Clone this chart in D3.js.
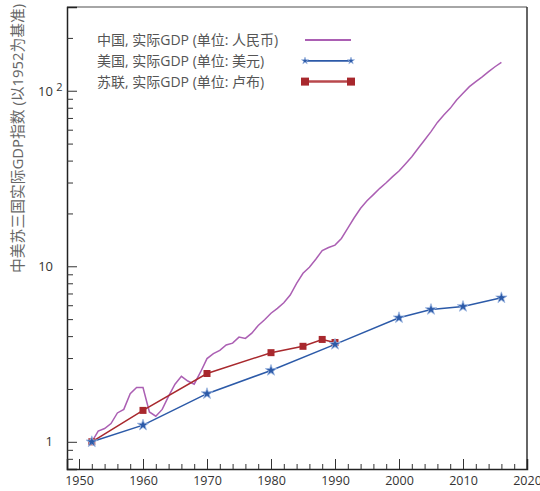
<!DOCTYPE html>
<html>
<head>
<meta charset="utf-8">
<script src="https://cdn.jsdelivr.net/npm/d3@7"></script>
<style>
  body { margin: 0; background: #fff; }
  text { font-family: "Open Sans", "Noto Sans CJK SC", sans-serif; }
</style>
</head>
<body>
<div id="chart"></div>
<script>
// data (index, 1952 = 1)
var chinaYears = [1952,1953,1954,1955,1956,1957,1958,1959,1960,1961,1962,1963,1964,1965,1966,1967,1968,1969,
  1970,1971,1972,1973,1974,1975,1976,1977,1978,1979,1980,1981,1982,1983,1984,1985,1986,1987,1988,1989,
  1990,1991,1992,1993,1994,1995,1996,1997,1998,1999,2000,2001,2002,2003,2004,2005,2006,2007,2008,2009,
  2010,2011,2012,2013,2014,2015,2016];
var chinaValues = [1.0,1.15,1.19,1.27,1.46,1.53,1.88,2.04,2.04,1.48,1.40,1.53,1.82,2.13,2.36,2.22,2.13,2.50,
  2.98,3.18,3.32,3.56,3.65,3.95,3.88,4.16,4.60,4.96,5.4,5.76,6.2,6.86,8.0,9.12,9.87,10.96,12.3,12.8,
  13.2,14.4,16.5,18.9,21.4,23.6,25.6,27.8,29.9,32.4,34.9,38.3,42.1,47.0,52.4,58.5,66,72.8,79.4,88.6,
  96.8,105.5,112.6,120,128.4,137,145];

var usYears = [1952,1960,1970,1980,1990,2000,2005,2010,2016];
var usValues = [1.0,1.245,1.88,2.55,3.59,5.09,5.67,5.9,6.61];

var ussrYears = [1952,1960,1970,1980,1985,1988,1990];
var ussrValues = [1.0,1.51,2.45,3.22,3.50,3.83,3.68];

var xTicks = [1950,1960,1970,1980,1990,2000,2010,2020];
var xMinorTicks = [1952,1954,1956,1958,1962,1964,1966,1968,1972,1974,1976,1978,1982,1984,1986,1988,
  1992,1994,1996,1998,2002,2004,2006,2008,2012,2014,2016,2018];
var yTicks = [1,10,100];
var yMinorTicks = [0.8,0.9,2,3,4,5,6,7,8,9,20,30,40,50,60,70,80,90,200];

var legendNames = ['中国, 实际GDP (单位: 人民币)', '美国, 实际GDP (单位: 美元)', '苏联, 实际GDP (单位: 卢布)'];
var yTitle = '中美苏三国实际GDP指数 (以1952为基准)';

var colChina = '#ab5fb3', colUS = '#2c5aa8', colUSSR = '#a8282d';

draw();

function draw() {
    "use strict";
    var W = 540, H = 491;
    var left = 67, right = 527, top = 7, bottom = 469;

    var svg = d3.select('#chart').append('svg')
        .attr('width', W).attr('height', H);

    var x = d3.scaleLinear().domain([1948.125, 2020]).range([left, right]);
    var y = d3.scaleLog().domain([0.7, 300]).range([bottom, top]);

    //frame//////////////////////
    svg.append('line').attr('x1', left).attr('x2', right).attr('y1', top).attr('y2', top)
        .attr('stroke', '#888').attr('stroke-width', 1.5);
    svg.append('line').attr('x1', right).attr('x2', right).attr('y1', top).attr('y2', bottom)
        .attr('stroke', '#333').attr('stroke-width', 1.5);

    //x axis (ticks inside)
    var xAxis = d3.axisBottom(x).tickValues(xTicks).tickSize(-10).tickPadding(13)
        .tickFormat(d3.format('d'));
    var gx = svg.append('g').attr('transform', 'translate(0,' + bottom + ')').call(xAxis);
    gx.selectAll('.tick').filter(function(d) { return d === 2020; }).select('line').remove();
    svg.append('g').attr('transform', 'translate(0,' + bottom + ')')
        .call(d3.axisBottom(x).tickValues(xMinorTicks).tickSize(-5).tickFormat(''))
        .select('.domain').remove();

    //y axis
    var yAxis = d3.axisLeft(y).tickValues(yTicks).tickSize(-10).tickPadding(14)
        .tickFormat(function(d) { return d === 100 ? '' : d; });
    var gy = svg.append('g').attr('transform', 'translate(' + left + ',0)').call(yAxis);
    svg.append('g').attr('transform', 'translate(' + left + ',0)')
        .call(d3.axisLeft(y).tickValues(yMinorTicks).tickSize(-6).tickFormat(''))
        .select('.domain').remove();

    [gx, gy].forEach(function(g) {
        g.select('.domain').attr('stroke', '#222').attr('stroke-width', 1.5);
        g.selectAll('.tick text').attr('fill', '#333').style('font-size', '13px');
    });
    svg.selectAll('.tick line').attr('stroke', '#333');
    gx.selectAll('.tick text').attr('dy', '0.25em').style('font-size', '12.5px');

    // 10^2 label
    var lab = svg.append('text')
        .attr('x', 38).attr('y', y(100) + 5)
        .attr('fill', '#333').style('font-size', '13px')
        .text('10 ');
    lab.append('tspan').attr('dy', -5).style('font-size', '11px').text('2');

    //y title
    svg.append('text')
        .attr('transform', 'translate(23,273) rotate(-90)')
        .attr('text-anchor', 'start')
        .attr('fill', '#666')
        .style('font-size', '14.8px')
        .text(yTitle);

    //lines
    var line = d3.line()
        .x(function(d) { return x(d[0]); })
        .y(function(d) { return y(d[1]); });

    var china = d3.zip(chinaYears, chinaValues);
    var us = d3.zip(usYears, usValues);
    var ussr = d3.zip(ussrYears, ussrValues);

    svg.append('path').datum(china).attr('d', line)
        .attr('fill', 'none').attr('stroke', colChina).attr('stroke-width', 1.5);
    svg.append('path').datum(ussr).attr('d', line)
        .attr('fill', 'none').attr('stroke', colUSSR).attr('stroke-width', 1.5);
    svg.append('path').datum(us).attr('d', line)
        .attr('fill', 'none').attr('stroke', colUS).attr('stroke-width', 1.5);

    svg.selectAll('.ussr').data(ussr).enter().append('rect')
        .attr('x', function(d) { return x(d[0]) - 3.5; })
        .attr('y', function(d) { return y(d[1]) - 3.5; })
        .attr('width', 7).attr('height', 7)
        .attr('fill', colUSSR);

    var star = d3.symbol().type(d3.symbolStar).size(40);
    svg.selectAll('.usStar').data(us).enter().append('path')
        .attr('d', star)
        .attr('transform', function(d) { return 'translate(' + x(d[0]) + ',' + y(d[1]) + ')'; })
        .attr('fill', colUS).attr('stroke', '#9fb9e2').attr('stroke-width', 0.8);

    //legend
    var lx0 = 305, lx1 = 351;
    var legend = svg.append('g');
    legendNames.forEach(function(name, i) {
        var ly = 40 + i * 20.8;
        legend.append('text')
            .attr('x', 97).attr('y', ly).attr('dy', '0.35em')
            .attr('fill', '#555').style('font-size', '14px')
            .text(name);
        var c = [colChina, colUS, colUSSR][i];
        legend.append('line').attr('x1', lx0).attr('x2', lx1).attr('y1', ly).attr('y2', ly)
            .attr('stroke', i === 2 ? '#b9484c' : c).attr('stroke-width', i === 2 ? 2.5 : 1.8);
        if (i === 1) {
            [lx0, lx1].forEach(function(px) {
                legend.append('path').attr('d', d3.symbol().type(d3.symbolStar).size(16))
                    .attr('transform', 'translate(' + px + ',' + ly + ')')
                    .attr('fill', colUS).attr('stroke', '#9fb9e2').attr('stroke-width', 0.6);
            });
        }
        if (i === 2) {
            [lx0, lx1].forEach(function(px) {
                legend.append('rect').attr('x', px - 4).attr('y', ly - 4)
                    .attr('width', 8).attr('height', 8).attr('fill', colUSSR);
            });
        }
    });
}
</script>
</body>
</html>
